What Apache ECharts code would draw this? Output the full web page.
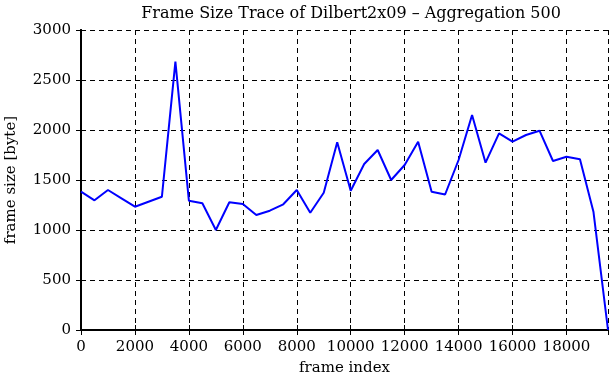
<!DOCTYPE html>
<html>
<head>
<meta charset="utf-8">
<script src="https://cdn.jsdelivr.net/npm/echarts@6/dist/echarts.min.js"></script>
<style>html,body{margin:0;padding:0;background:#fff}#c{width:611px;height:380px}</style>
</head>
<body>
<div id="c"></div>
<script>
const frameIndex = [0,500,1000,1500,2000,2500,3000,3500,4000,4500,5000,5500,6000,6500,7000,7500,8000,8500,9000,9500,10000,10500,11000,11500,12000,12500,13000,13500,14000,14500,15000,15500,16000,16500,17000,17500,18000,18500,19000,19540];
const frameSize = [1383,1297,1400,1317,1233,1283,1333,2683,1293,1267,1000,1277,1260,1150,1193,1257,1400,1173,1373,1877,1393,1660,1800,1500,1650,1883,1383,1355,1700,2150,1673,1967,1883,1950,1993,1690,1733,1707,1183,0];
const xTicks = [0,2000,4000,6000,8000,10000,12000,14000,16000,18000];
const yTicks = [0,500,1000,1500,2000,2500,3000];

const serif = 'DejaVu Serif';
const chart = echarts.init(document.getElementById('c'), null, {renderer:'canvas'});
const axisLine = {show:true, lineStyle:{color:'#000', width:2}};
const tick = {show:true, inside:true, length:5, lineStyle:{color:'#000', width:1}};
const grid = {show:true, lineStyle:{color:'#000', type:[5,4], width:1}};
chart.setOption({
  animation:false,
  title:{text:'Frame Size Trace of Dilbert2x09 \u2013 Aggregation 500', left:346, top:1, textAlign:'center',
    textStyle:{fontFamily:serif, fontSize:16, fontWeight:'normal', color:'#000'}},
  grid:{left:81, right:3, top:30, bottom:50, containLabel:false, outerBoundsMode:'none'},
  xAxis:[{type:'value', min:0, max:19540, interval:2000, position:'bottom',
    name:'frame index', nameLocation:'middle', nameGap:31,
    nameTextStyle:{fontFamily:serif, fontSize:15, color:'#000'},
    axisLine, axisTick:tick, splitLine:grid,
    axisLabel:{fontFamily:serif, fontSize:15, color:'#000', margin:10, showMaxLabel:false,
      formatter:v=>xTicks.includes(v)?String(v):''}},
    {type:'value', min:0, max:19540, interval:2000, position:'top',
    axisLine, axisTick:tick, splitLine:{show:false}, axisLabel:{show:false}}],
  yAxis:[{type:'value', min:0, max:3000, interval:500, position:'left',
    name:'frame size [byte]', nameLocation:'middle', nameGap:62,
    nameTextStyle:{fontFamily:serif, fontSize:15, color:'#000'},
    axisLine, axisTick:tick, splitLine:grid,
    axisLabel:{fontFamily:serif, fontSize:15, color:'#000', margin:10,
      formatter:v=>yTicks.includes(v)?String(v):''}},
    {type:'value', min:0, max:3000, interval:500, position:'right',
    axisLine, axisTick:tick, splitLine:{show:false}, axisLabel:{show:false}}],
  series:[{type:'line', data:frameIndex.map((f,i)=>[f,frameSize[i]]), showSymbol:false,
    lineStyle:{color:'#0000ff', width:2}, itemStyle:{color:'#0000ff'}, clip:false}]
});
</script>
</body>
</html>
